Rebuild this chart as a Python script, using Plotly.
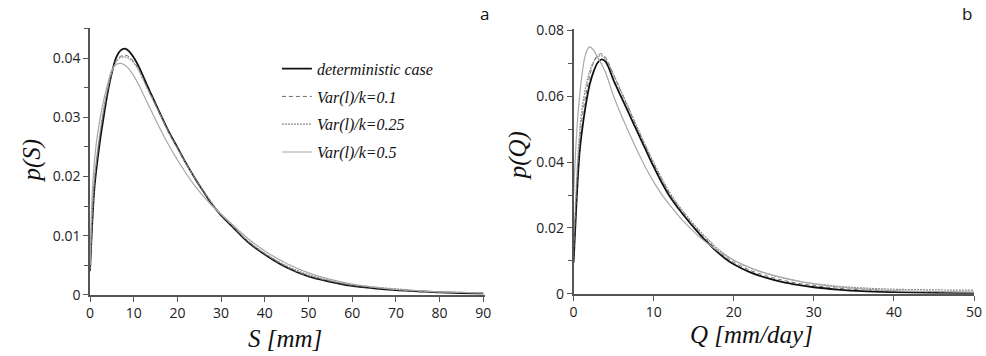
import plotly.graph_objects as go

# ---------------- Panel a: p(S) ----------------
S = [0, 0.5, 1, 1.5, 2, 3, 4, 5, 6, 7, 8, 9, 10, 11, 12, 13, 14, 16, 18, 20,
     22, 24, 26, 28, 30, 33, 36, 40, 45, 50, 55, 60, 65, 70, 75, 80, 85, 90]
pS_det = [0.0040, 0.0120, 0.0180, 0.0215, 0.0245, 0.0295, 0.0340, 0.0375, 0.0401, 0.0413,
          0.0416, 0.0411, 0.0401, 0.0388, 0.0372, 0.0355, 0.0339, 0.0307, 0.0276, 0.0249,
          0.0222, 0.0197, 0.0174, 0.0152, 0.0134, 0.0112, 0.0090, 0.0068, 0.0046, 0.0031,
          0.0022, 0.0015, 0.0011, 0.0008, 0.0006, 0.0004, 0.0003, 0.0002]
pS_01 = [0.0040, 0.0130, 0.0190, 0.0225, 0.0255, 0.0305, 0.0345, 0.0375, 0.0396, 0.0403,
         0.0405, 0.0402, 0.0394, 0.0383, 0.0368, 0.0352, 0.0337, 0.0306, 0.0275, 0.0248,
         0.0222, 0.0197, 0.0174, 0.0153, 0.0135, 0.0113, 0.0091, 0.0069, 0.0047, 0.0032,
         0.0023, 0.0016, 0.0012, 0.0009, 0.0006, 0.0005, 0.0004, 0.0003]
pS_025 = [0.0045, 0.0135, 0.0195, 0.0230, 0.0260, 0.0310, 0.0348, 0.0376, 0.0394, 0.0401,
          0.0402, 0.0399, 0.0392, 0.0381, 0.0366, 0.0350, 0.0335, 0.0305, 0.0274, 0.0247,
          0.0221, 0.0197, 0.0175, 0.0154, 0.0136, 0.0114, 0.0092, 0.0070, 0.0049, 0.0034,
          0.0024, 0.0017, 0.0013, 0.0010, 0.0007, 0.0005, 0.0004, 0.0003]
pS_05 = [0.0050, 0.0170, 0.0225, 0.0260, 0.0285, 0.0325, 0.0355, 0.0380, 0.0389, 0.0391,
         0.0388, 0.0381, 0.0370, 0.0357, 0.0342, 0.0326, 0.0311, 0.0281, 0.0253, 0.0228,
         0.0205, 0.0184, 0.0166, 0.0150, 0.0136, 0.0116, 0.0096, 0.0074, 0.0053, 0.0037,
         0.0026, 0.0018, 0.0013, 0.0009, 0.0007, 0.0005, 0.0004, 0.0003]

# ---------------- Panel b: p(Q) ----------------
Q = [0, 0.25, 0.5, 0.75, 1, 1.5, 2, 2.5, 3, 3.5, 4, 5, 6, 7, 8, 9, 10, 11, 12, 13,
     14, 15, 16, 17, 18, 19, 20, 22, 24, 26, 28, 30, 33, 36, 40, 45, 50]
pQ_det = [0.0095, 0.0220, 0.0340, 0.0430, 0.0485, 0.0570, 0.0635, 0.0675, 0.0702, 0.0712,
          0.0705, 0.0648, 0.0595, 0.0543, 0.0490, 0.0438, 0.0386, 0.0338, 0.0296, 0.0262,
          0.0231, 0.0202, 0.0174, 0.0149, 0.0126, 0.0106, 0.0090, 0.0066, 0.0049, 0.0036,
          0.0027, 0.0020, 0.0013, 0.0008, 0.0005, 0.0003, 0.0002]
pQ_01 = [0.0120, 0.0250, 0.0370, 0.0460, 0.0520, 0.0600, 0.0660, 0.0703, 0.0724, 0.0729,
         0.0718, 0.0665, 0.0610, 0.0555, 0.0500, 0.0447, 0.0395, 0.0347, 0.0304, 0.0268,
         0.0237, 0.0208, 0.0180, 0.0155, 0.0132, 0.0112, 0.0096, 0.0072, 0.0055, 0.0042,
         0.0032, 0.0025, 0.0017, 0.0012, 0.0008, 0.0006, 0.0005]
pQ_025 = [0.0140, 0.0280, 0.0400, 0.0490, 0.0550, 0.0625, 0.0675, 0.0705, 0.0720, 0.0723,
          0.0713, 0.0665, 0.0612, 0.0558, 0.0503, 0.0450, 0.0399, 0.0351, 0.0308, 0.0272,
          0.0241, 0.0212, 0.0185, 0.0160, 0.0137, 0.0118, 0.0102, 0.0079, 0.0062, 0.0049,
          0.0039, 0.0031, 0.0023, 0.0018, 0.0014, 0.0012, 0.0011]
pQ_05 = [0.0300, 0.0430, 0.0530, 0.0600, 0.0655, 0.0728, 0.0750, 0.0740, 0.0718, 0.0697,
         0.0672, 0.0600, 0.0540, 0.0485, 0.0432, 0.0383, 0.0340, 0.0302, 0.0270, 0.0240,
         0.0213, 0.0189, 0.0167, 0.0148, 0.0131, 0.0116, 0.0102, 0.0080, 0.0063, 0.0050,
         0.0039, 0.0030, 0.0021, 0.0015, 0.0010, 0.0007, 0.0005]

names = ["deterministic case", "Var(l)/k=0.1", "Var(l)/k=0.25", "Var(l)/k=0.5"]
styles = [dict(color="#111111", width=1.8, dash="solid"),
          dict(color="#6e6e6e", width=1.0, dash="4px,3px"),
          dict(color="#8a8a8a", width=1.2, dash="2px,1px"),
          dict(color="#a8a8a8", width=1.2, dash="solid")]

fig = go.Figure()
for name, st, ys in zip(names, styles, [pS_det, pS_01, pS_025, pS_05]):
    fig.add_trace(go.Scatter(x=S, y=ys, mode="lines", name=name, line=st,
                             line_shape="spline", legendgroup=name,
                             xaxis="x", yaxis="y"))
for name, st, ys in zip(names, styles, [pQ_det, pQ_01, pQ_025, pQ_05]):
    fig.add_trace(go.Scatter(x=Q, y=ys, mode="lines", name=name, line=st,
                             line_shape="spline", showlegend=False,
                             xaxis="x2", yaxis="y2"))

W, H = 986, 356
tickfont = dict(family="Open Sans, sans-serif", size=14, color="#222")
axis_common = dict(showline=True, linecolor="#555", linewidth=1.5, ticks="outside",
                   ticklen=5, tickcolor="#555", showgrid=False, zeroline=False,
                   tickfont=tickfont)

fig.update_layout(
    width=W, height=H, margin=dict(l=0, r=0, t=0, b=0),
    paper_bgcolor="white", plot_bgcolor="white",
    xaxis=dict(domain=[87 / W, 486 / W], range=[0, 90.3], dtick=10, anchor="y",
               **axis_common),
    yaxis=dict(domain=[1 - 301 / H, 1 - 20.5 / H], range=[0, 0.045], dtick=0.01,
               anchor="x", tickformat="~g",
               minor=dict(dtick=0.005, ticks="outside", ticklen=4, tickcolor="#555"),
               **axis_common),
    xaxis2=dict(domain=[576 / W, 981 / W], range=[0, 50], dtick=10, anchor="y2",
                **axis_common),
    yaxis2=dict(domain=[1 - 300 / H, 1 - 21.5 / H], range=[0, 0.0803], dtick=0.02,
                anchor="x2", tickformat="~g",
                minor=dict(dtick=0.01, ticks="outside", ticklen=4, tickcolor="#555"),
                **axis_common),
    showlegend=True,
    legend=dict(x=276 / W, y=1 - 45 / H, xanchor="left", yanchor="top",
                bgcolor="rgba(0,0,0,0)", tracegroupgap=4,
                font=dict(family="Liberation Serif, serif", size=16, color="#111",
                          style="italic")),
)

serif_title = dict(family="Liberation Serif, Times New Roman, serif", size=25,
                   color="#111", style="italic")


def note(text, x, y, font, angle=0):
    fig.add_annotation(text=text, x=x / W, y=1 - y / H, xref="paper", yref="paper",
                       xanchor="center", yanchor="middle", showarrow=False,
                       textangle=angle, font=font)


note("p(S)", 28, 160, serif_title, -90)
note("S [mm]", 284, 347, serif_title)
note("p(Q)", 520, 155, serif_title, -90)
note("Q [mm/day]", 756, 343, serif_title)

label_font = dict(family="Open Sans, sans-serif", size=17, color="#111")
note("a", 486, 5, label_font)
note("b", 974, 5, label_font)

fig.write_html("out.html")
